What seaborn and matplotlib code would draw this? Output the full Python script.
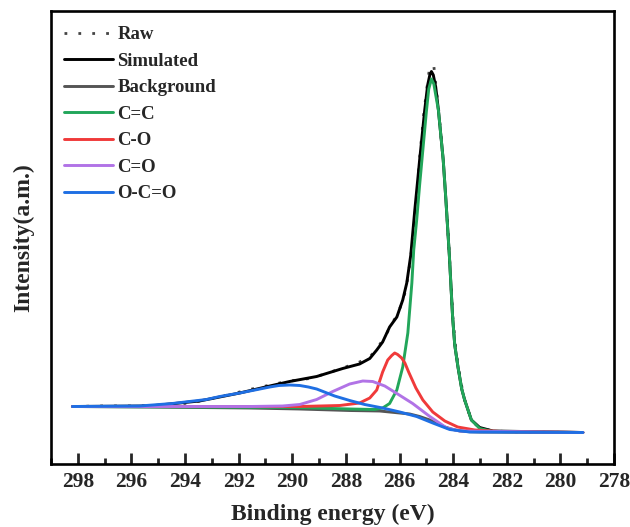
import numpy as np
import matplotlib
matplotlib.use("Agg")
import matplotlib.pyplot as plt
from matplotlib.ticker import MultipleLocator
import seaborn as sns

# C 1s spectrum (intensity in a.u.)
raw_e = [298.20, 297.19, 296.07, 294.95, 293.83, 292.71, 291.59, 290.47, 289.84, 289.35,
         288.79, 288.12, 287.49, 287.11, 286.85, 286.55, 286.29, 286.07, 285.84, 285.69,
         285.54, 285.39, 285.25, 285.10, 284.98, 284.87, 284.72, 284.65, 284.54, 284.39,
         284.27, 284.14, 284.01, 283.90, 283.79, 283.64, 283.53, 283.30, 283.01, 282.52,
         281.51, 279.16]
raw_i = [57.5, 58, 58, 58.5, 61, 67, 74.5, 81, 84, 85.5,
         90, 96, 102, 107, 115, 127, 140, 150, 166, 186,
         216, 259, 306, 349, 376, 398, 398, 380, 354, 309,
         266, 209, 146, 114, 94, 72, 60, 43, 36, 33,
         32, 31.5]

sim_e = [298.20, 295.32, 293.46, 291.96, 290.84, 290.10, 289.09, 288.12, 287.49, 287.11,
         286.85, 286.63, 286.37, 286.10, 285.88, 285.73, 285.58, 285.43, 285.25, 285.06,
         284.95, 284.87, 284.81, 284.74, 284.65, 284.55, 284.37, 284.27, 284.14, 284.02,
         283.94, 283.82, 283.68, 283.57, 283.32, 283.01, 282.52, 279.16]
sim_i = [57.5, 58, 63, 71, 78, 82.5, 87.5, 95.5, 100, 105.5,
         114, 122, 137, 147, 164, 181, 209, 254, 304, 354,
         379, 389, 392.5, 389, 377, 354, 304, 264, 208, 147,
         119, 97, 75, 64, 44, 36.5, 33, 31.5]

bg_e = [298.20, 295.32, 291.59, 289.72, 287.86, 286.74, 285.62, 285.25, 284.87, 284.60,
        284.31, 284.00, 283.75, 283.40, 283.01, 279.16]
bg_i = [57.5, 57, 56, 55, 53.5, 53, 50, 47.5, 44, 40.5,
        37, 34.5, 33, 32.3, 32, 31.5]

cc_e = [298.20, 289.72, 287.86, 286.93, 286.63, 286.37, 286.10, 285.88, 285.69, 285.54,
        285.47, 285.36, 285.25, 285.13, 285.00, 284.91, 284.81, 284.72, 284.65, 284.55,
        284.46, 284.37, 284.27, 284.14, 284.02, 283.94, 283.82, 283.68, 283.57, 283.32,
        283.01, 282.52, 279.16]
cc_i = [57.5, 56.5, 55, 54.5, 56, 60.5, 74, 97, 131, 181,
        214, 244, 279, 314, 352, 375, 385, 380, 369, 354,
        329, 304, 264, 208, 147, 119, 97, 75, 64, 44,
        35.5, 32.5, 31.5]

co_e = [298.20, 289.72, 288.23, 287.49, 287.11, 286.85, 286.63, 286.44, 286.29, 286.18,
        286.07, 285.92, 285.80, 285.66, 285.39, 285.13, 284.76, 284.31, 283.83, 283.19,
        282.26, 279.16]
co_i = [57.5, 57.5, 58.5, 61, 66, 74, 92, 104, 108.5, 111,
        109.5, 106, 101, 92, 76, 64, 52, 43, 37, 34,
        32.5, 31.5]

c_o_e = [298.20, 291.59, 290.36, 289.72, 289.09, 288.49, 287.86, 287.37, 287.00, 286.55,
         286.10, 285.51, 284.87, 284.24, 283.75, 279.16]
c_o_i = [57.5, 57.5, 58, 59.5, 64.5, 72.5, 80, 83, 82.5, 78,
         70.5, 60.5, 47.5, 36, 33, 31.5]

occo_e = [298.20, 295.70, 294.47, 293.20, 292.70, 291.96, 291.30, 290.84, 290.50, 290.10,
          289.72, 289.40, 289.09, 288.42, 287.86, 287.30, 286.63, 285.99, 285.36, 284.76,
          284.13, 283.38, 279.16]
occo_i = [57.5, 58, 60.5, 64.5, 67.5, 71, 74.5, 77, 78.5, 79,
          78.5, 77, 75, 68, 63.5, 59.5, 56, 52, 47.5, 41,
          34.5, 32, 31.5]

series = [
    ("Simulated", sim_e, sim_i, "black"),
    ("Background", bg_e, bg_i, "#555555"),
    ("C=C", cc_e, cc_i, "#22a65a"),
    ("C-O", co_e, co_i, "#f03a3a"),
    ("C=O", c_o_e, c_o_i, "#b173e6"),
    ("O-C=O", occo_e, occo_i, "#1f6fe3"),
]

sns.set_style("ticks")
plt.rcParams["font.family"] = ["Liberation Serif", "DejaVu Serif"]
plt.rcParams["font.weight"] = "bold"

fig = plt.figure(figsize=(6.3, 5.27), dpi=100)
ax = fig.add_axes([51 / 630, 63 / 527, 563 / 630, 453 / 527])

sns.lineplot(x=raw_e, y=raw_i, ax=ax, color="#444444", lw=2.0,
             linestyle=(0, (1, 4)), label="Raw", sort=False)
for name, e, i, col in series:
    sns.lineplot(x=e, y=i, ax=ax, color=col, lw=2.1, label=name, sort=False)

ax.set_xlim(299, 278)
ax.set_ylim(0, 453)
ax.set_xticks(np.arange(278, 299, 2))
ax.xaxis.set_minor_locator(MultipleLocator(1))
ax.set_yticks([])
ax.tick_params(axis="x", which="major", direction="in", length=8, width=2,
               labelsize=15.5, pad=6, top=False)
ax.tick_params(axis="x", which="minor", direction="in", length=4, width=2, top=False)
for lab in ax.get_xticklabels():
    lab.set_fontweight("bold")
for sp in ax.spines.values():
    sp.set_linewidth(1.9)
    sp.set_color("black")

ax.set_xlabel("Binding energy (eV)", fontsize=17, fontweight="bold", labelpad=8)
ax.set_ylabel("Intensity(a.m.)", fontsize=17, fontweight="bold", labelpad=12)

ax.legend(loc="upper left", bbox_to_anchor=(0.023, 0.967), frameon=False,
          prop={"size": 13.5, "weight": "bold"}, borderpad=0, borderaxespad=0,
          handlelength=2.6, handletextpad=0.25, labelspacing=0.5)

fig.savefig("out.png", dpi=100)
